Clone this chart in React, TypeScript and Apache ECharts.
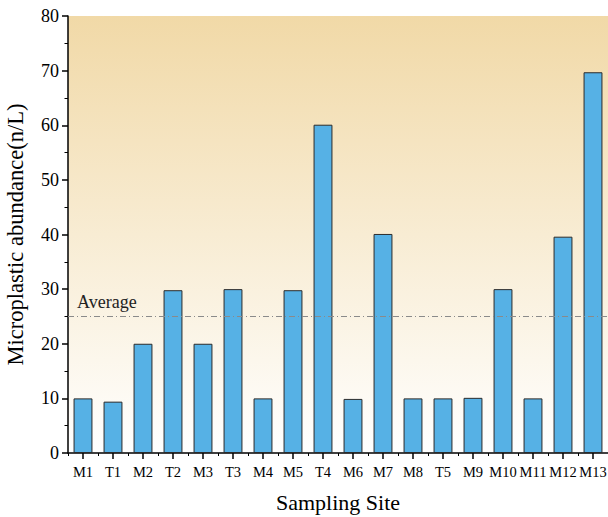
import React, { useEffect, useRef } from "react";
import * as echarts from "echarts";

const categories = ["M1", "T1", "M2", "T2", "M3", "T3", "M4", "M5", "T4", "M6", "M7", "M8", "T5", "M9", "M10", "M11", "M12", "M13"];
const abundance = [10, 9.4, 20, 29.8, 20, 30, 10, 29.8, 60.1, 9.9, 40.1, 10, 10, 10.1, 30, 10, 39.6, 69.7];
const averageValue = 25;
const yTicks = { min: 0, max: 80, interval: 10 };

export default function App() {
  const ref = useRef<HTMLDivElement>(null);
  useEffect(() => {
    if (!ref.current) return;
    const chart = echarts.init(ref.current, null, { renderer: "svg" });
    const font = "'Liberation Serif', 'Times New Roman', serif";
    chart.setOption({
      animation: false,
      textStyle: { fontFamily: font },
      grid: {
        left: 68,
        top: 16,
        right: 0,
        bottom: 64,
        containLabel: false,
        outerBoundsMode: "none",
        show: true,
        borderWidth: 0,
        backgroundColor: new echarts.graphic.LinearGradient(0, 0, 0, 1, [
          { offset: 0, color: "#f1d9a7" },
          { offset: 1, color: "#ffffff" },
        ]),
      },
      xAxis: [
        {
          type: "category",
          data: categories,
          name: "Sampling Site",
          nameLocation: "middle",
          nameGap: 38,
          nameTextStyle: { fontFamily: font, fontSize: 22, color: "#000" },
          axisLine: { lineStyle: { color: "#000", width: 1.5 } },
          axisTick: { show: true, alignWithLabel: true, length: 6, lineStyle: { color: "#000", width: 1.5 } },
          axisLabel: { fontFamily: font, fontSize: 14.5, color: "#000", margin: 11, interval: 0 },
          splitLine: { show: false },
        },
        {
          type: "category",
          data: categories,
          position: "bottom",
          axisLine: { show: false },
          axisTick: { show: true, alignWithLabel: false, length: 3, lineStyle: { color: "#000", width: 1 } },
          axisLabel: { show: false },
          splitLine: { show: false },
        },
      ],
      yAxis: {
        type: "value",
        min: yTicks.min,
        max: yTicks.max,
        interval: yTicks.interval,
        name: "Microplastic abundance(n/L)",
        nameLocation: "middle",
        nameGap: 41,
        nameTextStyle: { fontFamily: font, fontSize: 22.5, color: "#000" },
        axisLine: { show: true, lineStyle: { color: "#000", width: 1.5 } },
        axisTick: { show: true, length: 6, lineStyle: { color: "#000", width: 1.5 } },
        minorTick: { show: true, splitNumber: 2, length: 3.5, lineStyle: { color: "#000", width: 1 } },
        axisLabel: { fontFamily: font, fontSize: 18, color: "#000", margin: 9 },
        splitLine: { show: false },
      },
      series: [
        {
          type: "bar",
          data: abundance,
          xAxisIndex: 0,
          barWidth: "63%",
          itemStyle: { color: "#56b1e5", borderColor: "#2b2b2b", borderWidth: 1 },
          markLine: {
            symbol: "none",
            silent: true,
            data: [{ yAxis: averageValue }],
            lineStyle: { color: "#8a8a8a", width: 1, type: [6, 3, 1, 3] },
            label: {
              show: true,
              position: "insideStartTop",
              formatter: "Average",
              fontFamily: font,
              fontSize: 18,
              color: "#222",
              distance: [9, 5],
            },
          },
        },
      ],
    });
    return () => chart.dispose();
  }, []);
  return <div ref={ref} style={{ position: "absolute", left: 0, top: 0, width: 608, height: 517 }} />;
}
